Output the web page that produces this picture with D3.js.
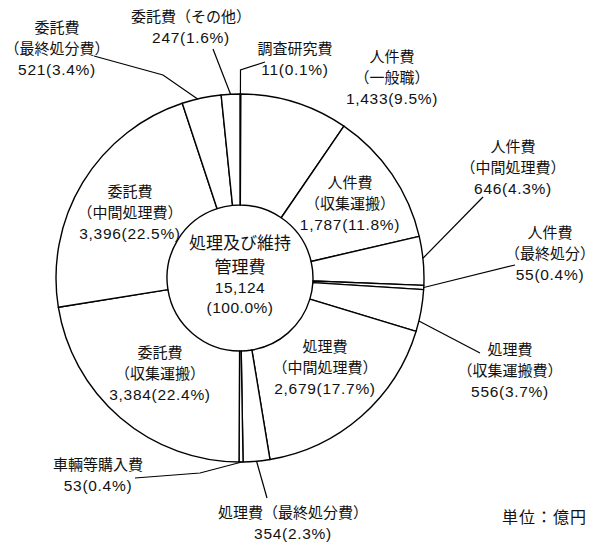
<!DOCTYPE html>
<html>
<head>
<meta charset="utf-8">
<script src="https://cdn.jsdelivr.net/npm/d3@7"></script>
<style>
  body { margin: 0; background: #fff; }
  text { font-family: "Liberation Sans", Arial, "Noto Sans CJK JP", sans-serif; fill: #111; }
</style>
</head>
<body>
<script>
// slices clockwise from 12 o'clock
var names = [
    ["調査研究費"],
    ["人件費", "（一般職）"],
    ["人件費", "（収集運搬）"],
    ["人件費", "（中間処理費）"],
    ["人件費", "（最終処分）"],
    ["処理費", "（収集運搬費）"],
    ["処理費", "（中間処理費）"],
    ["処理費（最終処分費）"],
    ["車輛等購入費"],
    ["委託費", "（収集運搬）"],
    ["委託費", "（中間処理費）"],
    ["委託費", "（最終処分費）"],
    ["委託費（その他）"]
];
var values = [11, 1433, 1787, 646, 55, 556, 2679, 354, 53, 3384, 3396, 521, 247];
var percents = ["0.1%", "9.5%", "11.8%", "4.3%", "0.4%", "3.7%", "17.7%", "2.3%", "0.4%", "22.4%", "22.5%", "3.4%", "1.6%"];
var totalLines = ["処理及び維持", "管理費", "15,124", "(100.0%)"];
var unitText = "単位：億円";

// label layout: text centre x, first line centre y, leader path (from text side), where on slice the leader hits (0..1)
var labelPos = [
    { x: 295, y: 49, lead: [[265, 62], [240.5, 70]], at: 0.5 },
    { x: 392, y: 57, lead: null },
    { x: 350, y: 183, lead: null },
    { x: 513, y: 147, lead: [[483, 197]], at: 0.45 },
    { x: 550, y: 233, lead: [[515, 265]], at: 0.5 },
    { x: 510, y: 350, lead: [[480, 353]], at: 0.75 },
    { x: 325, y: 347, lead: null },
    { x: 293, y: 513, lead: [[267, 498]], at: 0.5 },
    { x: 98, y: 465, lead: [[135, 478], [200, 473]], at: 0.3 },
    { x: 160, y: 353, lead: null },
    { x: 130, y: 192, lead: null },
    { x: 57, y: 28, lead: [[94, 56], [163, 75]], at: 0.4 },
    { x: 191, y: 17, lead: [[213, 49]], at: 0.5 }
];

var w = 595, h = 549;
var cx = 240, cy = 278, rOuter = 184, rInner = 73;
var lineH = 21;

var svg = d3.select("body").append("svg").attr("width", w).attr("height", h);

var pie = d3.pie().sort(null).value(d => d).startAngle(0).endAngle(2 * Math.PI);
var arcs = pie(values);
var arc = d3.arc().innerRadius(rInner).outerRadius(rOuter);

var g = svg.append("g").attr("transform", "translate(" + cx + "," + cy + ")");

g.selectAll("path.slice")
    .data(arcs)
    .enter().append("path")
    .attr("class", "slice")
    .attr("d", arc)
    .attr("fill", "#fff")
    .attr("stroke", "#000")
    .attr("stroke-width", 1.4)
    .attr("stroke-linejoin", "round");

// leader lines
var line = d3.line();
arcs.forEach((a, i) => {
    var p = labelPos[i];
    if (!p.lead) return;
    var ang = a.startAngle + (a.endAngle - a.startAngle) * p.at;
    var end = [cx + rOuter * Math.sin(ang), cy - rOuter * Math.cos(ang)];
    svg.append("path")
        .attr("d", line(p.lead.concat([end])))
        .attr("fill", "none")
        .attr("stroke", "#000")
        .attr("stroke-width", 1.2);
});

// slice labels
arcs.forEach((a, i) => {
    var p = labelPos[i];
    var lines = names[i].concat([d3.format(",")(values[i]) + "(" + percents[i] + ")"]);
    var t = svg.append("text")
        .attr("text-anchor", "middle")
        .style("font-size", "15px");
    lines.forEach((s, k) => {
        var ts = t.append("tspan")
            .attr("x", p.x)
            .attr("y", p.y + k * lineH)
            .attr("dy", "0.35em")
            .text(s);
        if (k == lines.length - 1) ts.style("font-size", "15.5px").style("letter-spacing", "0.7px");
    });
});

// centre
var ct = svg.append("text").attr("text-anchor", "middle");
var centreY = [243, 267, 288, 308];
totalLines.forEach((s, k) => {
    ct.append("tspan")
        .attr("x", cx)
        .attr("y", centreY[k])
        .attr("dy", "0.35em")
        .style("font-size", k < 2 ? "17px" : "15.5px")
        .style("letter-spacing", k < 2 ? "0px" : "0.5px")
        .text(s);
});

svg.append("text")
    .attr("x", 587)
    .attr("y", 517)
    .attr("dy", "0.35em")
    .attr("text-anchor", "end")
    .style("font-size", "16px")
    .style("letter-spacing", "1px")
    .text(unitText);
</script>
</body>
</html>
